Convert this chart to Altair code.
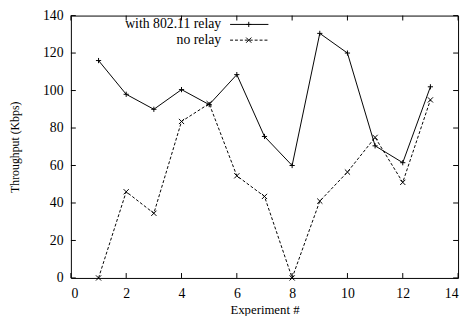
import altair as alt
import pandas as pd

experiments = list(range(1, 14))
with_relay = [116, 98, 90, 100.5, 92.5, 108.5, 75.5, 60, 130.5, 120, 70.5, 61.5, 102]
no_relay = [0, 46, 34.5, 83.5, 93, 54.5, 43.5, 0, 41, 56.5, 75, 51, 95]
x_ticks = [0, 2, 4, 6, 8, 10, 12, 14]
y_ticks = [0, 20, 40, 60, 80, 100, 120, 140]
legend_labels = ["with 802.11 relay", "no relay"]

W, H = 394, 267
FONT = "Liberation Serif"

df_r = pd.DataFrame({"x": experiments, "y": with_relay})
df_n = pd.DataFrame({"x": experiments, "y": no_relay})
df_xt = pd.DataFrame({"x": x_ticks})
df_yt = pd.DataFrame({"y": y_ticks})

xs = alt.Scale(domain=[0, 14], nice=False)
ys = alt.Scale(domain=[0, 140], nice=False)

xaxis = alt.Axis(values=x_ticks, tickSize=0, domain=False, grid=False, labelPadding=9,
                 labelOverlap=False, labelFont=FONT, labelFontSize=14, labelColor="black",
                 title="Experiment #", titleFont=FONT, titleFontSize=13, titleFontWeight="normal",
                 titleColor="black", titlePadding=3)
yaxis = alt.Axis(values=y_ticks, tickSize=0, domain=False, grid=False, labelPadding=8,
                 labelOverlap=False, labelFont=FONT, labelFontSize=14, labelColor="black",
                 title="Throughput (Kbps)", titleFont=FONT, titleFontSize=12, titleFontWeight="normal",
                 titleColor="black", titleX=-50)

X = alt.X("x:Q", scale=xs, axis=xaxis)
Y = alt.Y("y:Q", scale=ys, axis=yaxis)

plus_path = "M-1,0L1,0M0,-1L0,1"
x_path = "M-1,-1L1,1M-1,1L1,-1"

base_r = alt.Chart(df_r)
line_r = base_r.mark_line(color="black", strokeWidth=1).encode(x=X, y=Y)
pts_r = base_r.mark_point(shape=plus_path, size=28, filled=False, color="black", strokeWidth=1, opacity=1).encode(x=X, y=Y)

base_n = alt.Chart(df_n)
line_n = base_n.mark_line(color="black", strokeWidth=1, strokeDash=[3, 2]).encode(x=X, y=Y)
pts_n = base_n.mark_point(shape=x_path, size=28, filled=False, color="black", strokeWidth=1, opacity=1).encode(x=X, y=Y)

tk = 5
xt = alt.Chart(df_xt)
xt_bot = xt.mark_rule(color="black", strokeWidth=1).encode(x=X, y=alt.value(H), y2=alt.value(H - tk))
xt_top = xt.mark_rule(color="black", strokeWidth=1).encode(x=X, y=alt.value(0), y2=alt.value(tk))
yt = alt.Chart(df_yt)
yt_left = yt.mark_rule(color="black", strokeWidth=1).encode(y=Y, x=alt.value(0), x2=alt.value(tk))
yt_right = yt.mark_rule(color="black", strokeWidth=1).encode(y=Y, x=alt.value(W), x2=alt.value(W - tk))

# manual gnuplot-style key
lx_text, lx0, lx1, lxm = 153, 162, 201, 181
ly = [9, 25]
key = []
for i, lab in enumerate(legend_labels):
    d = alt.Chart(pd.DataFrame({"label": [lab]}))
    key.append(d.mark_text(align="right", baseline="middle", font=FONT, fontSize=14, color="black").encode(
        text="label:N", x=alt.value(lx_text), y=alt.value(ly[i])))
    key.append(d.mark_rule(color="black", strokeWidth=1, strokeDash=[] if i == 0 else [3, 2]).encode(
        x=alt.value(lx0), x2=alt.value(lx1), y=alt.value(ly[i])))
    key.append(d.mark_point(shape=plus_path if i == 0 else x_path, size=28, filled=False,
                            color="black", strokeWidth=1, opacity=1).encode(
        x=alt.value(lxm), y=alt.value(ly[i])))

chart = alt.layer(line_r, pts_r, line_n, pts_n, xt_bot, xt_top, yt_left, yt_right, *key).properties(
    width=W, height=H,
    padding={"left": 64, "top": 5, "right": 4, "bottom": 36},
    autosize=alt.AutoSizeParams(type="none"),
    background="white",
).configure_view(stroke="black", strokeWidth=1)

chart.save("out.html", embed_options={"renderer": "svg", "actions": False})
